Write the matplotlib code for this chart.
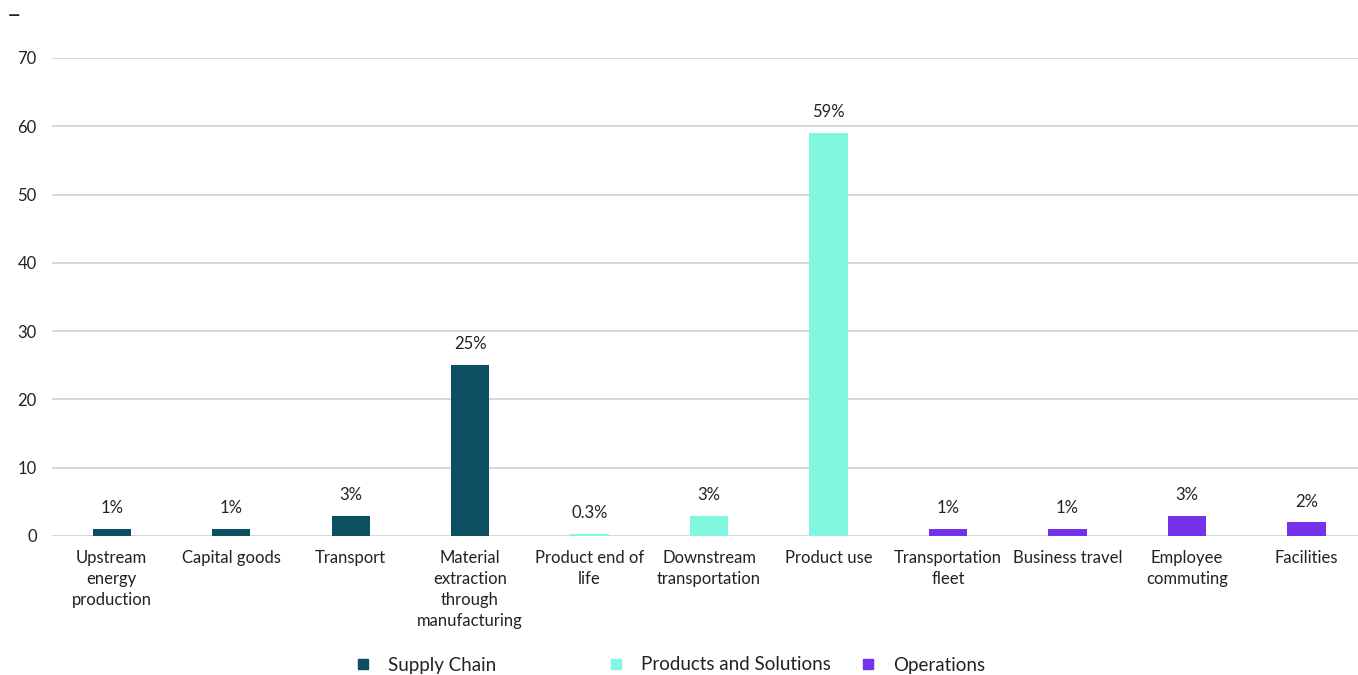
import matplotlib
matplotlib.use("Agg")
import matplotlib.pyplot as plt
from matplotlib.lines import Line2D

plt.rcParams['font.family'] = ['Lato', 'DejaVu Sans']

categories = ["Upstream\nenergy\nproduction", "Capital goods", "Transport",
              "Material\nextraction\nthrough\nmanufacturing", "Product end of\nlife",
              "Downstream\ntransportation", "Product use", "Transportation\nfleet",
              "Business travel", "Employee\ncommuting", "Facilities"]
values = [1, 1, 3, 25, 0.3, 3, 59, 1, 1, 3, 2]
labels = ["1%", "1%", "3%", "25%", "0.3%", "3%", "59%", "1%", "1%", "3%", "2%"]
groups = ["Supply Chain"] * 4 + ["Products and Solutions"] * 3 + ["Operations"] * 4
group_names = ["Supply Chain", "Products and Solutions", "Operations"]
group_colors = {"Supply Chain": "#0b4f61",
                "Products and Solutions": "#80f7de",
                "Operations": "#7631ea"}

fig = plt.figure(figsize=(13.58, 6.75), dpi=100)
ax = fig.add_axes([52 / 1358, (675 - 536) / 675, 1 - 52 / 1358 + 0.006, (536 - 58) / 675])

x = range(len(categories))
bars = ax.bar(x, values, width=0.32, color=[group_colors[g] for g in groups], zorder=3)
for b, lab in zip(bars, labels):
    ax.annotate(lab, (b.get_x() + b.get_width() / 2, b.get_height()),
                xytext=(0, 15), textcoords="offset points",
                ha="center", va="center", fontsize=12, color="#222222")

ax.set_ylim(0, 70)
ax.set_xlim(-0.5, len(categories) - 0.5)
ax.set_yticks(range(0, 71, 10))
ax.set_xticks(list(x))
ax.set_xticklabels(categories, fontsize=12, color="#222222", linespacing=1.38)
ax.tick_params(axis="both", length=0, labelsize=12, colors="#222222")
ax.tick_params(axis="y", pad=11)
ax.tick_params(axis="x", pad=10)
ax.grid(axis="y", color="#d4d4d4", linewidth=1.3, zorder=0)
for s in ax.spines.values():
    s.set_visible(False)

fig.text(7 / 1358, 1 - 16 / 675, "\u2013", fontsize=18, color="#222222", va="center")

# legend entries placed individually to match spacing
legend_pos = [365, 618, 870]
for name, px in zip(group_names, legend_pos):
    h = Line2D([], [], marker="s", linestyle="", markersize=7, color=group_colors[name])
    leg = fig.legend([h], [name], loc="center left",
                     bbox_to_anchor=((px - 11) / 1358, 1 - 665 / 675),
                     frameon=False, fontsize=13.5, handlelength=1, handletextpad=0.8,
                     borderpad=0, borderaxespad=0)
    for t in leg.get_texts():
        t.set_color("#222222")

fig.savefig("out.png", dpi=100, facecolor="white")
